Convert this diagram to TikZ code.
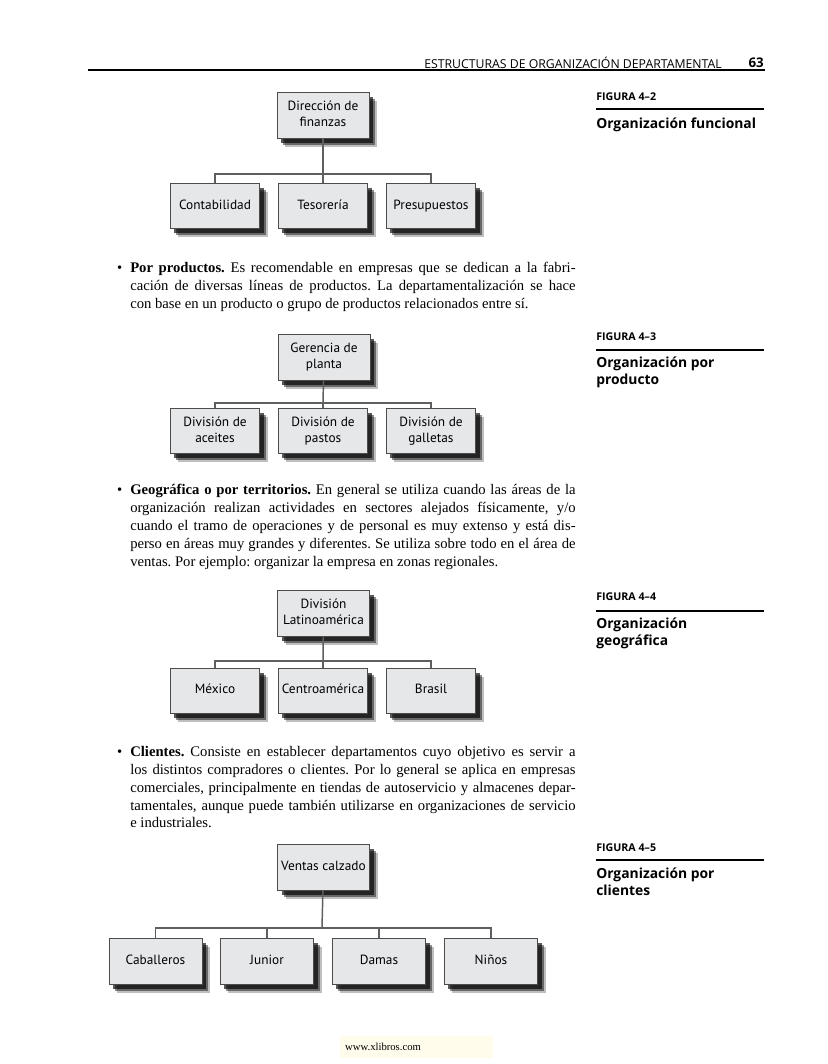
\documentclass[tikz,border=0pt]{standalone}
\usepackage{fontspec}
\setmainfont{Liberation Serif}
\newfontfamily\boxfont{PT Sans}
\newfontfamily\capfont{Open Sans}
\usetikzlibrary{positioning,shadows,calc}
\definecolor{BoxGray}{RGB}{230,231,233}
\definecolor{LinkGray}{RGB}{95,95,95}
\definecolor{FooterCream}{RGB}{255,252,236}
\frenchspacing

\begin{document}
\begin{tikzpicture}[x=0.75pt, y=-0.75pt, every node/.style={align=center}]
\tikzset{
  unit/.style={draw=black!70, line width=0.5pt, fill=BoxGray, font=\boxfont\fontsize{10}{12}\selectfont,
    minimum width=67pt, minimum height=33.5pt, inner sep=1pt, execute at begin node={\vphantom{lp}},
    drop shadow={shadow xshift=6pt, shadow yshift=-6.5pt, fill=black, opacity=0.25},
    drop shadow={shadow xshift=4.5pt, shadow yshift=-5pt, fill=black, opacity=0.45},
    drop shadow={shadow xshift=3pt, shadow yshift=-3.5pt, fill=black, opacity=0.65}},
  head/.style={unit, minimum width=69pt, minimum height=34.5pt},
  wideunit/.style={unit, minimum width=70pt, minimum height=34.5pt},
  link/.style={draw=LinkGray, line width=1.1pt},
  para/.style={anchor=north west, inner sep=0pt, text width=334pt, align=justify,
    font=\fontsize{11}{13.4}\selectfont},
  figno/.style={anchor=west, inner sep=0pt, font=\capfont\bfseries\fontsize{8}{9.6}\selectfont},
  figtitle/.style={anchor=north west, inner sep=0pt, align=left,
    font=\capfont\bfseries\fontsize{10.4}{12.6}\selectfont},
  figrule/.style={line width=1.6pt},
  footer/.style={fill=FooterCream, inner sep=0pt, text width=115pt, minimum height=16pt, align=left,
    font=\fontsize{8}{9}\selectfont}
}
  \path[use as bounding box, fill=white] (0,0) rectangle (828,1064);

  % running head
  \node[anchor=east, inner sep=0pt, font=\capfont\fontsize{9.2}{11}\selectfont] (runhead) at (722,63)
    {ESTRUCTURAS DE ORGANIZACIÓN DEPARTAMENTAL};
  \node[anchor=east, inner sep=0pt, font=\capfont\bfseries\fontsize{10}{12}\selectfont] (pageno) at (764,63) {63};
  \draw[line width=0.8pt] (88,70) -- (765,70);

  % figura 4-2
  \node[head] (finanzas) at (323,115) {Dirección de\\finanzas};
  \node[unit] (contab) at (215,206) {Contabilidad};
  \node[unit] (tesor) at (323,206) {Tesorería};
  \node[unit] (presup) at (431,206) {Presupuestos};
  \coordinate (busA) at (323,174);
  \draw[link] (finanzas) -- (busA);
  \draw[link] (contab.north) |- (busA) -| (presup.north);
  \draw[link] (tesor.north) -- (busA);

  \node[figno] (fig42) at (596,97) {FIGURA 4–2};
  \draw[figrule] (596,109) -- (764,109);
  \node[figtitle] (tit42) at (596,118) {Organización funcional};

  \node[para] (productos) at (130,262)
    {\llap{\textbullet\hspace{6pt}}\textbf{Por productos.} Es recomendable en empresas que se dedican a la fabri-\linebreak
     cación de diversas líneas de productos. La departamentalización se hace\linebreak
     con base en un producto o grupo de productos relacionados entre sí.};

  % figura 4-3
  \node[head] (planta) at (324,357) {Gerencia de\\planta};
  \node[unit] (aceites) at (215,431) {División de\\aceites};
  \node[unit] (pastos) at (323,431) {División de\\pastos};
  \node[unit] (galletas) at (431,431) {División de\\galletas};
  \coordinate (busB) at (323,403);
  \draw[link] (planta) -- (busB);
  \draw[link] (aceites.north) |- (busB) -| (galletas.north);
  \draw[link] (pastos.north) -- (busB);

  \node[figno] (fig43) at (596,337) {FIGURA 4–3};
  \draw[figrule] (596,350) -- (764,350);
  \node[figtitle] (tit43) at (596,357) {Organización por\\producto};

  \node[para] (territorios) at (130,484)
    {\llap{\textbullet\hspace{6pt}}\textbf{Geográfica o por territorios.} En general se utiliza cuando las áreas de la\linebreak
     organización realizan actividades en sectores alejados físicamente, y/o\linebreak
     cuando el tramo de operaciones y de personal es muy extenso y está dis-\linebreak
     perso en áreas muy grandes y diferentes. Se utiliza sobre todo en el área de\linebreak
     ventas. Por ejemplo: organizar la empresa en zonas regionales.};

  % figura 4-4
  \node[head] (latam) at (323.5,613.5) {División\\Latinoamérica};
  \node[unit] (mexico) at (215,690.5) {México};
  \node[unit] (centro) at (323,690.5) {Centroamérica};
  \node[unit] (brasil) at (431,690.5) {Brasil};
  \coordinate (busC) at (323,661);
  \draw[link] (latam) -- (busC);
  \draw[link] (mexico.north) |- (busC) -| (brasil.north);
  \draw[link] (centro.north) -- (busC);

  \node[figno] (fig44) at (596,597) {FIGURA 4–4};
  \draw[figrule] (596,611) -- (764,611);
  \node[figtitle] (tit44) at (596,618) {Organización\\geográfica};

  \node[para] (clientes) at (130,746)
    {\llap{\textbullet\hspace{6pt}}\textbf{Clientes.} Consiste en establecer departamentos cuyo objetivo es servir a\linebreak
     los distintos compradores o clientes. Por lo general se aplica en empresas\linebreak
     comerciales, principalmente en tiendas de autoservicio y almacenes depar-\linebreak
     tamentales, aunque puede también utilizarse en organizaciones de servicio\linebreak
     e industriales.};

  % figura 4-5
  \node[head] (calzado) at (323.5,867) {Ventas calzado};
  \node[wideunit] (caballeros) at (155.5,961) {Caballeros};
  \node[wideunit] (junior) at (267,961) {Junior};
  \node[wideunit] (damas) at (379,961) {Damas};
  \node[wideunit] (ninos) at (491,961) {Niños};
  \coordinate (busD) at (322,928);
  \draw[link] (calzado) -- (busD);
  \draw[link] (caballeros.north) |- (busD) -| (ninos.north);
  \draw[link] (junior.north) |- (busD);
  \draw[link] (damas.north) |- (busD);

  \node[figno] (fig45) at (596,848) {FIGURA 4–5};
  \draw[figrule] (596,860) -- (764,860);
  \node[figtitle] (tit45) at (596,868) {Organización por\\clientes};

  \node[footer] (web) at (416.5,1047) {\hspace*{4pt}www.xlibros.com};
\end{tikzpicture}
\end{document}
